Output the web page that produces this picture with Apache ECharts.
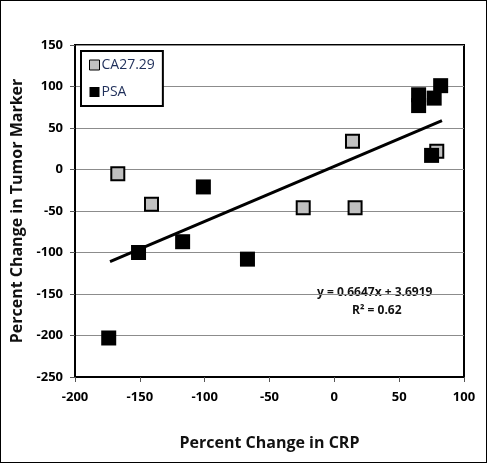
<!DOCTYPE html>
<html>
<head>
<meta charset="utf-8">
<script src="https://cdn.jsdelivr.net/npm/echarts@6/dist/echarts.min.js"></script>
<style>
  html, body { margin: 0; padding: 0; background: #fff; }
  #chart { width: 487px; height: 463px; box-sizing: border-box; border: 1px solid #000; }
</style>
</head>
<body>
<div id="chart"></div>
<script>
// data
var caPoints = [[-167, -5], [-141, -42], [-24, -46], [14, 34], [16, -46], [79, 22]]
var psaPoints = [[-174, -203], [-151, -100], [-117, -87], [-101, -21], [-67, -108],
                 [65, 90], [65, 77], [77, 86], [82, 101], [75, 17]]
var trendPoints = [[-173, -111], [83, 59]]
var eqText = 'y = 0.6647x + 3.6919'
var r2Text = 'R² = 0.62'

var font = 'Open Sans'
var myChart = echarts.init(document.getElementById('chart'))

myChart.setOption({
    animation: false,
    textStyle: { fontFamily: font },
    grid: {
        left: 74, right: 22, top: 44, bottom: 85,
        show: true, borderColor: '#000', borderWidth: 2
    },
    legend: {
        left: 80, top: 50,
        orient: 'vertical',
        itemGap: 13,
        itemWidth: 10, itemHeight: 10,
        padding: [7, 8, 7, 8],
        borderColor: '#000', borderWidth: 2,
        backgroundColor: '#fff',
        textStyle: { fontFamily: font, fontSize: 14, color: '#1f2f5a', padding: [0, 0, 0, -3] },
        data: [
            { name: 'CA27.29', icon: 'rect', itemStyle: { color: '#c0c0c0', borderColor: '#000', borderWidth: 1 } },
            { name: 'PSA', icon: 'rect', itemStyle: { color: '#000' } }
        ]
    },
    xAxis: {
        type: 'value', min: -200, max: 100, interval: 50,
        name: 'Percent Change in CRP', nameLocation: 'middle', nameGap: 58,
        nameTextStyle: { fontFamily: font, fontSize: 16, fontWeight: 'bold', color: '#111' },
        axisLine: { show: true, onZero: false, lineStyle: { color: '#000', width: 2 } },
        axisTick: { show: true, length: 5, lineStyle: { color: '#555' } },
        axisLabel: { fontFamily: font, fontSize: 13, fontWeight: 'bold', color: '#000', margin: 14 },
        splitLine: { show: false }
    },
    yAxis: {
        type: 'value', min: -250, max: 150, interval: 50,
        name: 'Percent Change in Tumor Marker', nameLocation: 'middle', nameGap: 48,
        nameTextStyle: { fontFamily: font, fontSize: 16, fontWeight: 'bold', color: '#111' },
        axisLine: { show: true, onZero: false, lineStyle: { color: '#000', width: 2 } },
        axisTick: { show: true, length: 5, lineStyle: { color: '#555' } },
        axisLabel: { fontFamily: font, fontSize: 13, fontWeight: 'bold', color: '#000', margin: 12 },
        splitLine: { show: true, lineStyle: { color: '#8c8c8c', width: 1 } }
    },
    series: [
        {
            name: 'trend', type: 'line', data: trendPoints,
            showSymbol: false, symbol: 'none', silent: true,
            lineStyle: { color: '#000', width: 3 }, z: 1
        },
        {
            name: 'CA27.29', type: 'scatter', data: caPoints,
            symbol: 'rect', symbolSize: 13,
            itemStyle: { color: '#c0c0c0', borderColor: '#000', borderWidth: 2, opacity: 1 }, z: 2
        },
        {
            name: 'PSA', type: 'scatter', data: psaPoints,
            symbol: 'rect', symbolSize: 15,
            itemStyle: { color: '#000', opacity: 1 }, z: 3
        }
    ],
    graphic: [
        {
            type: 'text', left: 316, top: 286,
            style: { text: eqText, font: 'bold 12px "' + font + '"', fill: '#111' }
        },
        {
            type: 'text', left: 351, top: 304,
            style: { text: r2Text, font: 'bold 12px "' + font + '"', fill: '#111' }
        }
    ]
})
</script>
</body>
</html>
